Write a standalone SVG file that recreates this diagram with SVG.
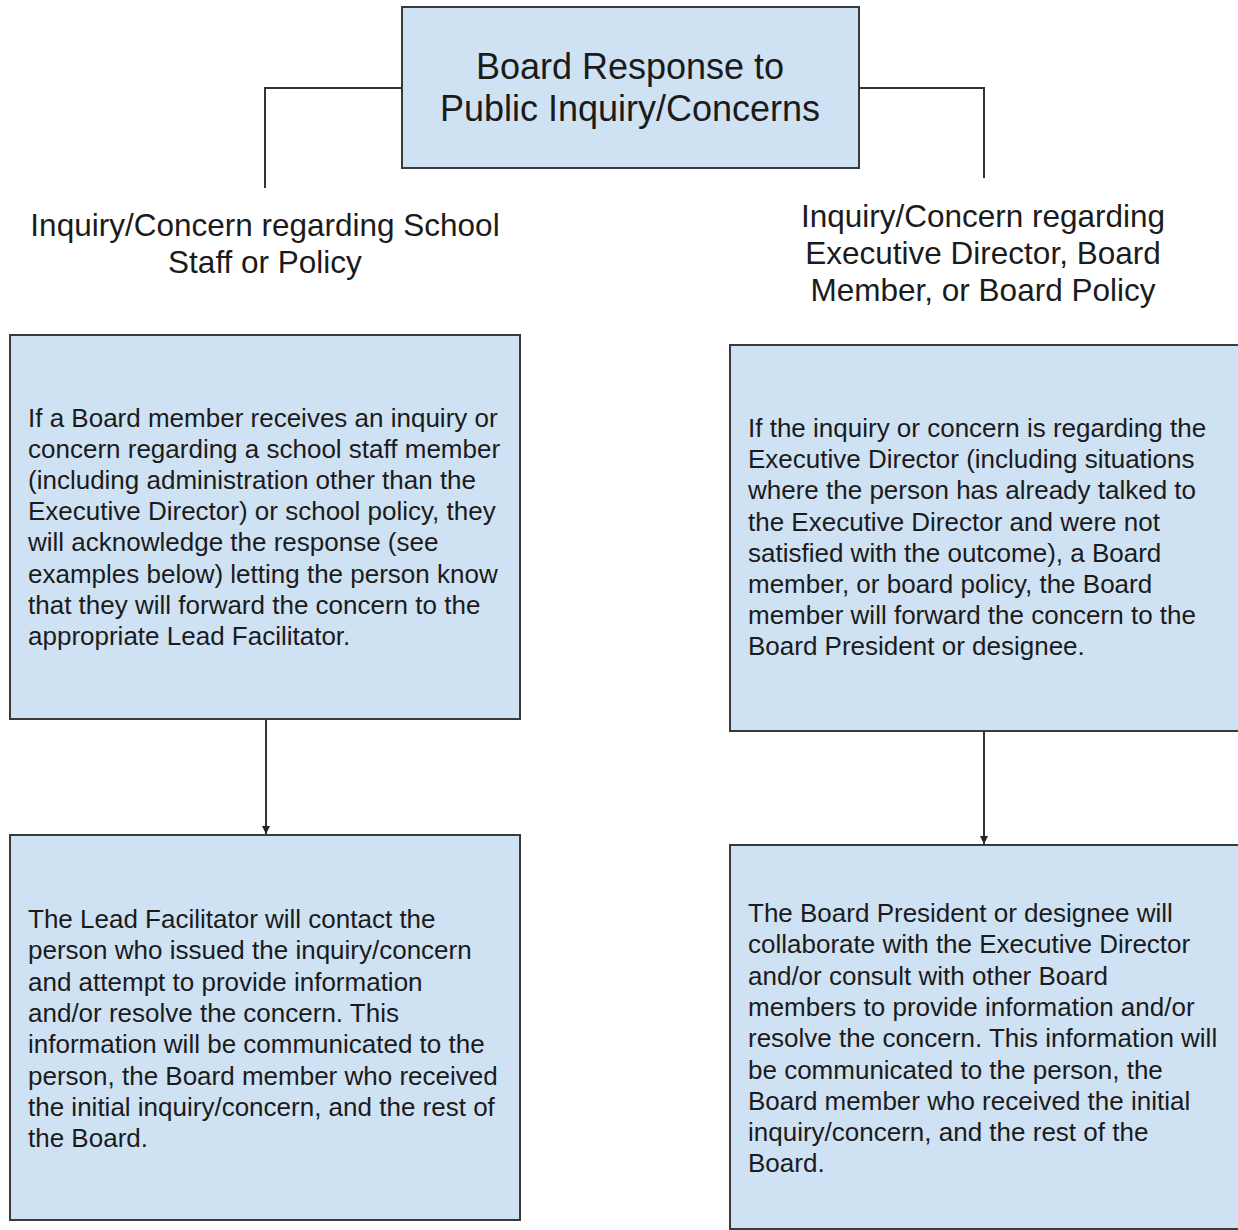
<svg xmlns="http://www.w3.org/2000/svg" width="1238" height="1230" viewBox="0 0 1238 1230">
<defs>
<style>
.box{fill:#cfe2f3;stroke:#3a3a3a;stroke-width:2}
.t{font-family:"Liberation Sans",Arial,sans-serif;fill:#1b1b1b}
.title{font-size:36px;text-anchor:middle}
.head{font-size:31.5px;text-anchor:middle}
.body{font-size:26px}
.conn{fill:none;stroke:#333;stroke-width:2}
</style>
<marker id="ah" markerWidth="10" markerHeight="10" refX="8" refY="5" orient="auto" markerUnits="userSpaceOnUse">
<path d="M0,1 L8,5 L0,9 Z" fill="#222"/>
</marker>
</defs>
<rect width="1238" height="1230" fill="#ffffff"/>
<g id="connectors">
<path class="conn" d="M402,88 H265 V188"/>
<path class="conn" d="M859,88 H984 V178"/>
<path class="conn" d="M266,720 V834" marker-end="url(#ah)"/>
<path class="conn" d="M984,732 V844" marker-end="url(#ah)"/>
</g>
<g id="title">
<rect class="box" x="402" y="7" width="457" height="161"/>
<text class="t title"><tspan x="630" y="79">Board Response to</tspan><tspan x="630" y="121">Public Inquiry/Concerns</tspan></text>
</g>
<g id="heading-left">
<text class="t head"><tspan x="265" y="236">Inquiry/Concern regarding School</tspan><tspan x="265" y="273">Staff or Policy</tspan></text>
</g>
<g id="heading-right">
<text class="t head"><tspan x="983" y="227">Inquiry/Concern regarding</tspan><tspan x="983" y="264">Executive Director, Board</tspan><tspan x="983" y="301">Member, or Board Policy</tspan></text>
</g>
<g id="left-top">
<rect class="box" x="10" y="335" width="510" height="384"/>
<text class="t body">
<tspan x="28" y="427">If a Board member receives an inquiry or</tspan>
<tspan x="28" y="458.1">concern regarding a school staff member</tspan>
<tspan x="28" y="489.2">(including administration other than the</tspan>
<tspan x="28" y="520.3">Executive Director) or school policy, they</tspan>
<tspan x="28" y="551.4">will acknowledge the response (see</tspan>
<tspan x="28" y="582.5">examples below) letting the person know</tspan>
<tspan x="28" y="613.6">that they will forward the concern to the</tspan>
<tspan x="28" y="644.7">appropriate Lead Facilitator.</tspan>
</text>
</g>
<g id="left-bottom">
<rect class="box" x="10" y="835" width="510" height="385"/>
<text class="t body">
<tspan x="28" y="928">The Lead Facilitator will contact the</tspan>
<tspan x="28" y="959.3">person who issued the inquiry/concern</tspan>
<tspan x="28" y="990.6">and attempt to provide information</tspan>
<tspan x="28" y="1021.9">and/or resolve the concern. This</tspan>
<tspan x="28" y="1053.2">information will be communicated to the</tspan>
<tspan x="28" y="1084.5">person, the Board member who received</tspan>
<tspan x="28" y="1115.8">the initial inquiry/concern, and the rest of</tspan>
<tspan x="28" y="1147.1">the Board.</tspan>
</text>
</g>
<g id="right-top">
<rect class="box" x="730" y="345" width="520" height="386"/>
<text class="t body">
<tspan x="748" y="437">If the inquiry or concern is regarding the</tspan>
<tspan x="748" y="468.2">Executive Director (including situations</tspan>
<tspan x="748" y="499.4">where the person has already talked to</tspan>
<tspan x="748" y="530.6">the Executive Director and were not</tspan>
<tspan x="748" y="561.8">satisfied with the outcome), a Board</tspan>
<tspan x="748" y="593">member, or board policy, the Board</tspan>
<tspan x="748" y="624.2">member will forward the concern to the</tspan>
<tspan x="748" y="655.4">Board President or designee.</tspan>
</text>
</g>
<g id="right-bottom">
<rect class="box" x="730" y="845" width="520" height="384"/>
<text class="t body">
<tspan x="748" y="922">The Board President or designee will</tspan>
<tspan x="748" y="953.3">collaborate with the Executive Director</tspan>
<tspan x="748" y="984.6">and/or consult with other Board</tspan>
<tspan x="748" y="1015.9">members to provide information and/or</tspan>
<tspan x="748" y="1047.2">resolve the concern. This information will</tspan>
<tspan x="748" y="1078.5">be communicated to the person, the</tspan>
<tspan x="748" y="1109.8">Board member who received the initial</tspan>
<tspan x="748" y="1141.1">inquiry/concern, and the rest of the</tspan>
<tspan x="748" y="1172.4">Board.</tspan>
</text>
</g>
</svg>
